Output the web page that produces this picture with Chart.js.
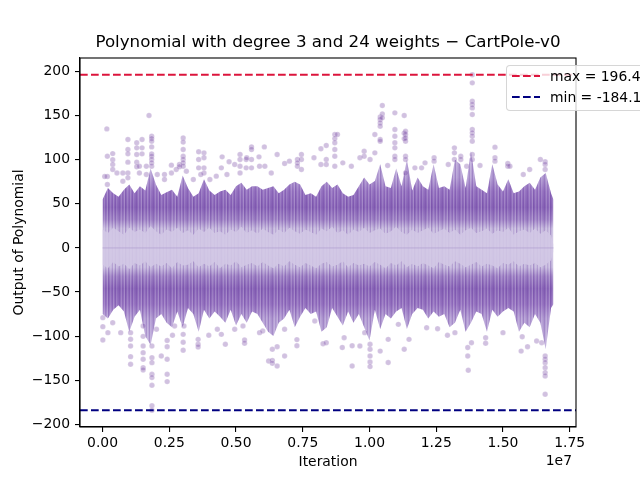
<!DOCTYPE html>
<html><head><meta charset="utf-8">
<script src="https://cdn.jsdelivr.net/npm/chart.js@4.4.1/dist/chart.umd.min.js"></script>
<style>
html,body{margin:0;padding:0;background:#fff;overflow:hidden;width:640px;height:480px}
#wrap{position:relative;width:640px;height:480px;overflow:hidden}
#legend{position:absolute;left:506px;top:65px;width:170px;height:46px;border:1px solid rgba(204,204,204,0.8);border-radius:4px;background:rgba(255,255,255,0.8);box-sizing:border-box;font-family:'DejaVu Sans';font-size:13.9px;color:#000}
#legend svg{position:absolute;left:4px;top:0}
#legend span{position:absolute;left:43px;line-height:16px;white-space:nowrap}
</style></head><body>
<div id="wrap">
<canvas id="c" width="640" height="480"></canvas>
<div id="legend">
<svg width="32" height="44"><line x1="1" y1="10" x2="29" y2="10" stroke="#dc143c" stroke-width="2.1" stroke-dasharray="7.7 3.3"/><line x1="1" y1="31" x2="29" y2="31" stroke="#000080" stroke-width="2.1" stroke-dasharray="7.7 3.3"/></svg>
<span id="lg1" style="top:2px"></span>
<span id="lg2" style="top:23px"></span>
</div>
</div>
<script>
// ---------------- data ----------------
const chartTitle = 'Polynomial with degree 3 and 24 weights \u2212 CartPole-v0';
const xLabel = 'Iteration';
const yLabel = 'Output of Polynomial';
const maxValue = 196.4;
const minValue = -184.1;
const maxLabel = 'max = 196.4';
const minLabel = 'min = -184.1';
const xOffsetText = '1e7';
const xTicks = [0, 0.25, 0.5, 0.75, 1.0, 1.25, 1.5, 1.75];   // ×1e7
const yTicks = [-200, -150, -100, -50, 0, 50, 100, 150, 200];

// dense band envelope, x in units of 1e7 (one sample every 0.02e7)
const bandX = [0,0.02,0.04,0.06,0.08,0.1,0.12,0.14,0.16,0.18,
  0.2,0.22,0.24,0.26,0.28,0.3,0.32,0.34,0.36,0.38,
  0.4,0.42,0.44,0.46,0.48,0.5,0.52,0.54,0.56,0.58,
  0.6,0.62,0.64,0.66,0.68,0.7,0.72,0.74,0.76,0.78,
  0.8,0.82,0.84,0.86,0.88,0.9,0.92,0.94,0.96,0.98,
  1.0,1.02,1.04,1.06,1.08,1.1,1.12,1.14,1.16,1.18,
  1.2,1.22,1.24,1.26,1.28,1.3,1.32,1.34,1.36,1.38,
  1.4,1.42,1.44,1.46,1.48,1.5,1.52,1.54,1.56,1.58,
  1.6,1.62,1.64,1.66,1.68, 1.689];
const bandHigh = [55,68,62,58,66,72,62,70,65,90,
  72,60,63,66,58,82,68,58,62,78,
  65,60,64,66,60,70,74,66,70,70,
  66,68,70,62,66,72,75,72,60,62,
  58,70,75,68,72,62,58,60,70,80,
  72,76,95,70,68,90,70,100,65,80,
  70,66,95,68,70,66,100,95,68,110,
  70,66,62,95,72,64,78,62,64,70,
  74,66,80,85,62, 55];
const bandLow = [-75,-80,-70,-65,-72,-95,-78,-70,-100,-110,
  -80,-75,-85,-90,-72,-90,-68,-75,-95,-70,
  -80,-72,-78,-85,-70,-88,-75,-85,-72,-75,
  -85,-95,-100,-85,-80,-70,-90,-78,-68,-75,
  -72,-95,-90,-68,-78,-88,-72,-85,-75,-90,
  -105,-70,-92,-75,-80,-72,-68,-92,-75,-68,
  -70,-80,-72,-78,-75,-90,-85,-70,-95,-85,
  -72,-75,-95,-70,-78,-72,-68,-72,-95,-85,
  -90,-75,-85,-115,-68, -64];
const coreHigh = [21,17,23,19,15,23,18,21,17,25,
  19,15,21,18,23,17,20,15,22,18,
  23,17,19,15,21,18,24,17,20,16,
  22,18,15,21,17,23,19,16,21,18,
  15,22,19,24,17,20,15,21,18,23,
  17,20,22,16,19,24,18,15,21,17,
  20,23,16,19,22,17,21,15,20,23,
  17,19,22,16,20,18,23,15,19,21,
  17,22,16,20,14, 4];
const coreLow = [-19,-23,-16,-21,-18,-24,-17,-20,-15,-22,
  -18,-21,-17,-23,-16,-20,-19,-15,-22,-18,
  -21,-16,-23,-18,-20,-15,-22,-19,-17,-21,
  -16,-20,-23,-18,-21,-15,-19,-22,-17,-20,
  -23,-18,-16,-21,-19,-15,-22,-17,-20,-18,
  -21,-16,-19,-23,-17,-20,-15,-22,-18,-21,
  -17,-20,-23,-16,-19,-21,-15,-18,-22,-19,
  -16,-21,-18,-20,-23,-17,-19,-15,-21,-18,
  -20,-17,-22,-19,-14, -4];

// sparse points above the band: column x (×1e7) and the values in it
const topColX = [0.016,0.018,0.008,0.038,0.054,0.076,0.095,0.128,0.148,0.138,0.174,0.184,0.164,0.205,0.232,0.258,0.276,0.288,0.302,0.314,0.34,0.36,0.38,0.368,0.402,0.426,0.448,0.445,0.474,0.466,0.495,0.515,0.538,0.558,0.54,0.586,0.588,0.606,0.608,0.632,0.654,0.682,0.7,0.73,0.745,0.792,0.818,0.838,0.87,0.88,0.9,0.932,0.964,0.98,1.002,1.02,1.04,1.048,1.068,1.095,1.13,1.135,1.17,1.195,1.208,1.242,1.295,1.318,1.342,1.364,1.385,1.414,1.47,1.518,1.526,1.576,1.6,1.64,1.658];
const topColY = [[135],[104,81,72],[81],[107,100,94.6,89],[85],[85,75.7],[123,111.6,106.7,97.3,85,79.5],[119.2,113.5,106,97.3,92],[123,113.5,106.7],[92.7,85],[150.2],[126.7,124,121,114.6,106.7,104,100.3,96.5,92.7],[92.7,83.3],[83.3],[83.3,77.6],[93.9,85],[89],[94.6,92],[124.8,120,111.6,104,100.3,96.5,92.7],[87],[77.6],[109,100.3,90.8],[107.8,102.2,90.8,85],[83.3],[77.6],[81.4],[103.3],[90.8],[97.7],[83.3],[94.6],[106,100.3,92.7,85],[100.3,90.8],[114.6,111.6,100.3,90.8],[102.2],[103.3],[92.7],[114.6],[92.7],[85],[106],[95.8],[98.4],[100.3,96.5,92.7],[106,100.3,89],[102.2],[112.4,94.6],[116.2,100.3,94.6],[128.6,124,119.2,111.6,104,92.7],[128.6],[96.5],[92.7],[102.2],[109.7,104],[100.3],[128.6,107.8],[148.6,145.6,141.8,138,123,121],[161.5,152,147.5],[93.5],[153.2,134.3,126.7,119.2,113.5,104,100.3],[150.2,130,124],[132.4,128.6,124.8,121,104,100.3,85],[90.8],[90.8],[96.5],[102.2,98.4],[94.6],[113.5,107.8,100.3],[104,100.3],[92.7],[196.4,187.2,166.4,162.6,158.8,151.3,134.3,130.5,126.7,121,106,100.3],[93.5],[114.3,102.2,98.4],[95.8,92.7],[92.7],[83.3],[89],[100.3],[97.7,94.6,89]];

// sparse points below the band
const botColX = [0.001,0.02,0.038,0.068,0.105,0.152,0.185,0.202,0.22,0.242,0.262,0.27,0.302,0.305,0.358,0.398,0.43,0.445,0.46,0.495,0.532,0.526,0.588,0.6,0.622,0.636,0.654,0.682,0.728,0.795,0.826,0.838,0.898,0.905,0.935,0.964,0.982,1.002,1.04,1.07,1.108,1.13,1.148,1.214,1.255,1.292,1.32,1.368,1.37,1.382,1.435,1.5,1.568,1.572,1.592,1.626,1.645,1.658];
const botColY = [[-104.4,-89.3,-79.1],[-96.1],[-84.8],[-96.1],[-96.1,-103.6,-111.2,-123.3,-132],[-88.5,-100.3,-111.2,-118.8,-126.3,-135.8,-138.4],[-111.2,-124.5,-130.1,-143.3,-147.1,-155.8,-179,-184.1],[-92.3],[-122.6],[-105,-112,-126.3,-143.3,-151.6],[-99.1],[-88.5],[-98,-107,-116],[-88.5],[-103.7,-109.3,-112.4],[-99.1],[-92.3],[-98],[-109.3],[-92.3],[-104.4,-108.2],[-88.5],[-96.1],[-94.2],[-128.2],[-115,-127.5,-130.9],[-112,-134],[-122.6,-92.3],[-111,-104],[-82.9],[-108.6],[-107.5],[-113],[-101.8],[-111,-134],[-111.2],[-96.1],[-109.3,-115,-122.6,-129.4,-134.6],[-117],[-130,-103.7],[-86.7],[-115],[-103.7],[-90.5],[-91.6],[-99.1],[-96.1],[-113,-122.6],[-138.8],[-107.5],[-101.8,-108.2],[-96.1],[-117],[-100.7],[-112],[-105.6],[-107.5],[-122.6,-126.3,-130.1,-135.8,-141.4,-145.2,-166]];

const xMin = -0.0845, xMax = 1.7735;   // ×1e7
const yMin = -203.1, yMax = 215.4;

// ---------------- build ----------------
const E7 = 1e7;
const FONT = "'DejaVu Sans'";
const toPts = (xs, ys) => xs.map((x, i) => ({x: x * E7, y: ys[i]}));
const scatterPts = [];
topColX.forEach((x, i) => topColY[i].forEach(y => scatterPts.push({x: x * E7, y})));
botColX.forEach((x, i) => botColY[i].forEach(y => scatterPts.push({x: x * E7, y})));

document.getElementById('lg1').textContent = maxLabel;
document.getElementById('lg2').textContent = minLabel;

function bandGradient(ctx) {
  const chart = ctx.chart;
  if (!chart.chartArea) return 'rgb(150,120,192)';
  const ys = chart.scales.y;
  const top = ys.getPixelForValue(110), bot = ys.getPixelForValue(-110);
  const g = chart.ctx.createLinearGradient(0, top, 0, bot);
  const s = v => (110 - v) / 220;
  [[110,'rgb(196,180,222)'],[80,'rgb(180,158,212)'],[64,'rgb(152,118,194)'],[46,'rgb(138,102,184)'],
   [32,'rgb(160,132,198)'],[22,'rgb(198,185,222)'],[0,'rgb(210,199,229)']].forEach(([v, c]) => {
    g.addColorStop(s(v), c); if (v) g.addColorStop(s(-v), c);
  });
  return g;
}

// vertical streak texture
const stripeCanvas = document.createElement('canvas');
stripeCanvas.width = 17; stripeCanvas.height = 4;
(() => {
  const c = stripeCanvas.getContext('2d');
  const cols = ['rgba(80,30,140,0.2)', 'rgba(255,255,255,0)', 'rgba(255,255,255,0.15)', 'rgba(80,30,140,0.1)',
    'rgba(255,255,255,0)', 'rgba(255,255,255,0.2)', 'rgba(80,30,140,0.25)', 'rgba(80,30,140,0.05)',
    'rgba(255,255,255,0.12)', 'rgba(255,255,255,0)', 'rgba(80,30,140,0.15)', 'rgba(255,255,255,0.16)',
    'rgba(255,255,255,0)', 'rgba(80,30,140,0.22)', 'rgba(255,255,255,0.1)', 'rgba(255,255,255,0)', 'rgba(80,30,140,0.08)'];
  cols.forEach((col, i) => { c.fillStyle = col; c.fillRect(i, 0, 1, 4); });
})();
const stripes = document.getElementById('c').getContext('2d').createPattern(stripeCanvas, 'repeat');

const overlay = {
  id: 'overlay',
  afterDatasetsDraw(chart) {
    const {ctx, chartArea: ca, scales: {y}} = chart;
    ctx.save();
    ctx.beginPath(); ctx.rect(ca.left, ca.top, ca.right - ca.left, ca.bottom - ca.top); ctx.clip();
    ctx.lineWidth = 2.1;
    ctx.setLineDash([7.7, 3.3]);
    [[maxValue, '#dc143c'], [minValue, '#000080']].forEach(([v, c]) => {
      const py = y.getPixelForValue(v);
      ctx.strokeStyle = c;
      ctx.beginPath(); ctx.moveTo(ca.left, py); ctx.lineTo(ca.right, py); ctx.stroke();
    });
    ctx.restore();
  },
  afterDraw(chart) {
    const {ctx, chartArea: ca} = chart;
    ctx.save();
    ctx.strokeStyle = '#000'; ctx.lineWidth = 1.1; ctx.setLineDash([]);
    ctx.strokeRect(ca.left, ca.top, ca.right - ca.left, ca.bottom - ca.top);
    ctx.fillStyle = '#000';
    ctx.font = '16.7px ' + FONT;
    ctx.textAlign = 'center'; ctx.textBaseline = 'middle';
    ctx.fillText(chartTitle, (ca.left + ca.right) / 2, 43);
    ctx.font = '13.9px ' + FONT;
    ctx.textAlign = 'right';
    ctx.fillText(xOffsetText, ca.right - 4, 461);
    ctx.restore();
  }
};

const tickFont = {family: FONT, size: 13.9};
const lineDs = (label, ys, order, extra) => Object.assign({label, data: toPts(bandX, ys), order,
  showLine: true, pointRadius: 0, pointHoverRadius: 0, borderWidth: 0, fill: false}, extra || {});
new Chart(document.getElementById('c'), {
  type: 'scatter',
  data: {datasets: [
    {label: 'points', data: scatterPts, order: 1,
      pointRadius: 2.7, pointHoverRadius: 2.7,
      pointBackgroundColor: 'rgba(102,51,153,0.3)',
      pointBorderColor: 'rgba(255,255,255,0.35)', pointBorderWidth: 0.5},
    {label: 'zero', data: [{x: 0, y: 0}, {x: bandX[bandX.length - 1] * E7, y: 0}], order: 2,
      showLine: true, pointRadius: 0, borderColor: 'rgba(175,158,210,0.7)', borderWidth: 1, fill: false},
    lineDs('coreHigh', coreHigh, 3),
    lineDs('coreLow', coreLow, 3, {fill: '-1', backgroundColor: 'rgba(210,199,229,0.88)'}),
    lineDs('streakHigh', bandHigh, 4),
    lineDs('streakLow', bandLow, 4, {fill: '-1', backgroundColor: stripes}),
    lineDs('bandHigh', bandHigh, 5),
    lineDs('bandLow', bandLow, 5, {fill: '-1', backgroundColor: bandGradient})
  ]},
  options: {
    responsive: false, devicePixelRatio: 1, animation: false,
    layout: {padding: {left: 0, right: 64, top: 58, bottom: 0}},
    plugins: {legend: {display: false}, tooltip: {enabled: false}, title: {display: false}},
    scales: {
      x: {type: 'linear', min: xMin * E7, max: xMax * E7,
        afterBuildTicks: s => { s.ticks = xTicks.map(v => ({value: v * E7})); },
        afterFit: s => { s.height = 53; },
        ticks: {callback: v => (v / E7).toFixed(2), font: tickFont, color: '#000', padding: 3, maxRotation: 0, autoSkip: false},
        grid: {display: true, drawOnChartArea: false, drawTicks: true, tickLength: 5, color: '#000', lineWidth: 1.1},
        border: {display: true, color: '#000', width: 1.1},
        title: {display: true, text: xLabel, font: tickFont, color: '#000', padding: {top: 0, bottom: 9.7}}
      },
      y: {type: 'linear', min: yMin, max: yMax,
        afterBuildTicks: s => { s.ticks = yTicks.map(v => ({value: v})); },
        afterFit: s => { s.width = 80; },
        ticks: {callback: v => String(v).replace('-', '\u2212'), font: tickFont, color: '#000', padding: 5, autoSkip: false},
        grid: {display: true, drawOnChartArea: false, drawTicks: true, tickLength: 5, color: '#000', lineWidth: 1.1},
        border: {display: true, color: '#000', width: 1.1},
        title: {display: true, text: yLabel, font: tickFont, color: '#000', padding: {top: 10.7, bottom: 0}}
      }
    }
  },
  plugins: [overlay]
});
</script>
</body></html>
